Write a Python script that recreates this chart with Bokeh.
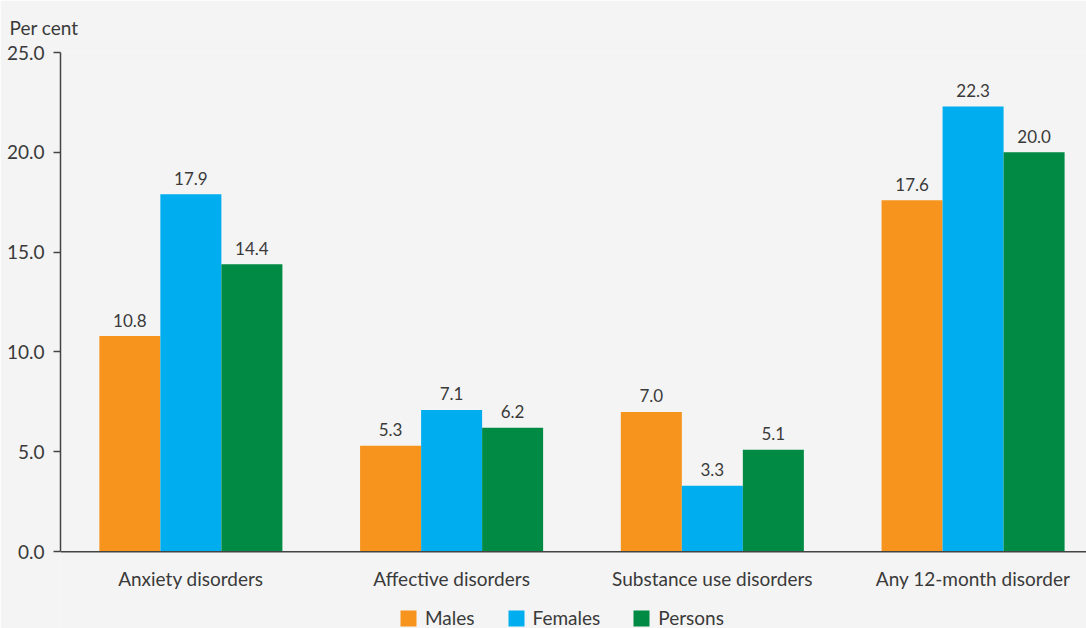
from bokeh.plotting import figure
from bokeh.models import ColumnDataSource, Range1d, FixedTicker, NumeralTickFormatter, Legend, LegendItem, Span
from bokeh.transform import dodge
from bokeh.embed import file_html
from bokeh.resources import INLINE
from bokeh.core.properties import value

categories = ["Anxiety disorders", "Affective disorders", "Substance use disorders", "Any 12-month disorder"]
males = [10.8, 5.3, 7.0, 17.6]
females = [17.9, 7.1, 3.3, 22.3]
persons = [14.4, 6.2, 5.1, 20.0]
series_names = ["Males", "Females", "Persons"]
colors = ["#f7941d", "#00aeef", "#008a44"]
y_ticks = [0, 5, 10, 15, 20, 25]

BG = "#f4f4f4"
TXT = "#3a3a3a"
AX = "#444444"
FONT = "Lato"

pos = list(range(len(categories)))
data = dict(pos=pos, cat=categories, zero=[0] * len(pos),
            Males=males, Females=females, Persons=persons)
for s in series_names:
    data[s + "_lbl"] = ["%.1f" % v for v in data[s]]
src = ColumnDataSource(data)

p = figure(width=1086, height=628, output_backend="svg", toolbar_location=None,
           x_range=Range1d(-0.5, 3.435), y_range=Range1d(-3.85, 25),
           min_border_left=60, min_border_right=0, min_border_top=51, min_border_bottom=0)
p.background_fill_color = BG
p.border_fill_color = BG
p.outline_line_color = None
p.grid.visible = False
p.xaxis.visible = False

p.title.text = "Per cent"
p.title.align = "left"
p.title.offset = -51
p.title.standoff = 27
p.title.text_font = FONT
p.title.text_font_size = "19px"
p.title.text_font_style = "normal"
p.title.text_color = TXT

bw = 0.234
offsets = [-bw, 0.0, bw]
renderers = []
for s, c, off in zip(series_names, colors, offsets):
    r = p.vbar(x=dodge("pos", off, range=p.x_range), top=s, width=bw, bottom=0,
               source=src, fill_color=c, line_color=None)
    renderers.append(r)
    p.text(x=dodge("pos", off, range=p.x_range), y=s, text=s + "_lbl", source=src,
           text_align="center", text_baseline="alphabetic", y_offset=-16,
           text_font=value(FONT), text_font_size="17px", text_color=TXT)

# baseline (x axis line)
p.add_layout(Span(location=0, dimension="width", line_color=AX, line_width=1.5))

# category labels under the baseline
p.text(x="pos", y="zero", text="cat", source=src, text_align="center",
       text_baseline="alphabetic", y_offset=27,
       text_font=value(FONT), text_font_size="19px", text_color=TXT)

# y axis
ya = p.yaxis[0]
ya.ticker = FixedTicker(ticks=y_ticks)
ya.bounds = (0, 25)
ya.formatter = NumeralTickFormatter(format="0.0")
ya.major_tick_out = 7
ya.major_tick_in = 0
ya.minor_tick_line_color = None
ya.major_label_standoff = 9
ya.axis_line_color = AX
ya.axis_line_width = 1.5
ya.major_tick_line_color = AX
ya.major_tick_line_width = 1.5
ya.major_label_text_font = FONT
ya.major_label_text_font_size = "19px"
ya.major_label_text_color = TXT

legend = Legend(items=[LegendItem(label=s, renderers=[r]) for s, r in zip(series_names, renderers)],
                orientation="horizontal", location=(338, -1),
                glyph_width=20, glyph_height=20, label_standoff=7, spacing=31,
                padding=0, margin=0, background_fill_alpha=0, border_line_color=None,
                label_text_font=FONT, label_text_font_size="19px", label_text_color=TXT,
                label_height=20)
p.add_layout(legend, "center")

open("out.html", "w").write(file_html(p, INLINE))
